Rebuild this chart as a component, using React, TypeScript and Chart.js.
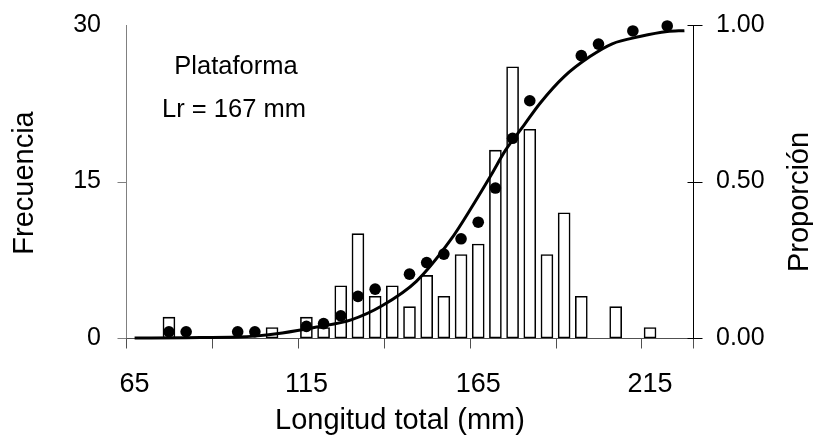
import React, { useEffect, useRef } from "react";
import { Chart, registerables } from "chart.js";

Chart.register(...registerables);

const FONT = '"Liberation Sans", Arial, Helvetica, sans-serif';

// Histogram: length-class centres (mm) and frequencies
const binCenters = [75, 105, 115, 120, 125, 130, 135, 140, 145, 150, 155, 160, 165, 170, 175, 180, 185, 190, 195, 205, 215];
const frequencies = [2, 1, 2, 1, 5, 10, 4, 5, 3, 6, 4, 8, 9, 18, 26, 20, 8, 12, 4, 3, 1];

// Observed proportions (dots)
const proportionLengths = [75, 80, 95, 100, 115, 120, 125, 130, 135, 145, 150, 155, 160, 165, 170, 175, 180, 195, 200, 210, 220];
const proportions = [0.02, 0.02, 0.02, 0.02, 0.037, 0.046, 0.071, 0.133, 0.156, 0.204, 0.241, 0.268, 0.317, 0.37, 0.479, 0.638, 0.758, 0.902, 0.939, 0.981, 0.997];

// Fitted curve
const curveLengths = [65, 80, 95, 100, 108, 118, 128, 137, 147, 157, 163.5, 168.5, 173, 178, 183, 190, 197.5, 204, 212, 220, 225];
const curveValues = [0.0, 0.001, 0.003, 0.006, 0.016, 0.035, 0.058, 0.103, 0.181, 0.314, 0.425, 0.516, 0.601, 0.675, 0.75, 0.835, 0.899, 0.94, 0.963, 0.979, 0.982];

// Axis ticks
const xTickLabels = [65, 115, 165, 215];
const xTickMarks = [62.5, 87.5, 112.5, 137.5, 162.5, 187.5, 212.5, 227.5];
const yTicks = [0, 15, 30];
const y2Ticks = [0, 0.5, 1];

const titleX = "Longitud total (mm)";
const titleY = "Frecuencia";
const titleY2 = "Proporción";
const note1 = "Plataforma";
const note2 = "Lr = 167 mm";

export default function App() {
  const ref = useRef<HTMLCanvasElement>(null);

  useEffect(() => {
    const canvas = ref.current;
    if (!canvas) return;

    const axesPlugin = {
      id: "axesPlugin",
      beforeDatasetsDraw(chart: any) {
        const { ctx, chartArea: a, scales } = chart;
        const x = scales.x;
        const y = scales.y;
        const y2 = scales.y2;
        ctx.save();
        ctx.lineWidth = 1;
        const L = Math.round(a.left) + 0.5;
        const R = Math.round(a.right) + 0.5;
        const B = Math.round(a.bottom) + 0.5;
        const T = Math.round(a.top);
        // left axis
        ctx.strokeStyle = "#808080";
        ctx.beginPath();
        ctx.moveTo(L, T);
        ctx.lineTo(L, B);
        yTicks.forEach((v) => {
          if (v === 30) return;
          const py = Math.round(y.getPixelForValue(v)) + 0.5;
          ctx.moveTo(L - 9, py);
          ctx.lineTo(L, py);
        });
        ctx.stroke();
        // bottom axis
        ctx.strokeStyle = "#505050";
        ctx.beginPath();
        ctx.moveTo(L, B);
        ctx.lineTo(R, B);
        xTickMarks.forEach((v) => {
          const px = Math.round(x.getPixelForValue(v)) + 0.5;
          ctx.moveTo(px, B);
          ctx.lineTo(px, B + 10);
        });
        ctx.stroke();
        // right axis
        ctx.strokeStyle = "#000";
        ctx.beginPath();
        ctx.moveTo(R, T);
        ctx.lineTo(R, B);
        y2Ticks.forEach((v) => {
          const py = Math.round(y2.getPixelForValue(v)) + 0.5;
          ctx.moveTo(R - 6, py);
          ctx.lineTo(R + 9, py);
        });
        ctx.stroke();
        ctx.restore();
      },
      afterDraw(chart: any) {
        const { ctx } = chart;
        ctx.save();
        ctx.fillStyle = "#000";
        ctx.textAlign = "center";
        ctx.textBaseline = "alphabetic";
        ctx.font = `29px ${FONT}`;
        ctx.fillText(titleX, 400, 429);
        ctx.save();
        ctx.translate(33, 183);
        ctx.rotate(-Math.PI / 2);
        ctx.fillText(titleY, 0, 0);
        ctx.restore();
        ctx.save();
        ctx.translate(808, 202);
        ctx.rotate(-Math.PI / 2);
        ctx.fillText(titleY2, 0, 0);
        ctx.restore();
        ctx.font = `25.5px ${FONT}`;
        ctx.fillText(note1, 236, 74);
        ctx.fillText(note2, 234, 117);
        ctx.restore();
      },
    };

    const tickFont = { family: FONT, size: 25 };
    const xTickFont = { family: FONT, size: 27 };
    const noPad = (s: any) => {
      s.paddingTop = 0;
      s.paddingBottom = 0;
      s.paddingLeft = 0;
      s.paddingRight = 0;
    };

    const chart = new Chart(canvas, {
      type: "bar",
      data: {
        datasets: [
          {
            type: "line",
            label: "Proporción observada",
            data: proportionLengths.map((v, i) => ({ x: v, y: proportions[i] })),
            yAxisID: "y2",
            showLine: false,
            pointRadius: 5.8,
            pointBackgroundColor: "#000",
            pointBorderWidth: 0,
            clip: false,
            order: 0,
          },
          {
            type: "line",
            label: "Ajuste",
            data: curveLengths.map((v, i) => ({ x: v, y: curveValues[i] })),
            yAxisID: "y2",
            borderColor: "#000",
            borderWidth: 3,
            pointRadius: 0,
            cubicInterpolationMode: "monotone",
            fill: false,
            clip: false,
            order: 1,
          },
          {
            type: "bar",
            label: "Frecuencia",
            data: binCenters.map((v, i) => ({ x: v, y: frequencies[i] })),
            yAxisID: "y",
            backgroundColor: "#fff",
            borderColor: "#000",
            borderWidth: 1.6,
            borderSkipped: false,
            barThickness: 12,
            order: 2,
          },
        ] as any,
      },
      options: {
        responsive: false,
        animation: false,
        layout: { padding: { top: 25, left: 0, right: 0, bottom: 0 } },
        plugins: { legend: { display: false }, tooltip: { enabled: false } },
        scales: {
          x: {
            type: "linear",
            min: 62.5,
            max: 227.5,
            offset: false,
            grid: { display: false, drawTicks: false, tickLength: 0 },
            border: { display: false },
            afterBuildTicks: (s: any) => {
              s.ticks = xTickLabels.map((v) => ({ value: v }));
            },
            afterFit: (s: any) => {
              s.height = 99;
              noPad(s);
            },
            ticks: {
              autoSkip: false,
              maxRotation: 0,
              minRotation: 0,
              padding: 30,
              color: "#000",
              font: xTickFont,
              callback: (v: any) => String(v),
            },
          },
          y: {
            position: "left",
            min: 0,
            max: 30,
            grid: { display: false, drawTicks: false, tickLength: 0 },
            border: { display: false },
            afterBuildTicks: (s: any) => {
              s.ticks = yTicks.map((v) => ({ value: v }));
            },
            afterFit: (s: any) => {
              s.width = 126;
              noPad(s);
            },
            ticks: { padding: 25, color: "#000", font: tickFont, callback: (v: any) => String(v) },
          },
          y2: {
            position: "right",
            min: 0,
            max: 1,
            grid: { display: false, drawTicks: false, tickLength: 0 },
            border: { display: false },
            afterBuildTicks: (s: any) => {
              s.ticks = y2Ticks.map((v) => ({ value: v }));
            },
            afterFit: (s: any) => {
              s.width = 120;
              noPad(s);
            },
            ticks: { padding: 23, color: "#000", font: tickFont, callback: (v: any) => Number(v).toFixed(2) },
          },
        },
      } as any,
      plugins: [axesPlugin],
    });

    return () => chart.destroy();
  }, []);

  return (
    <div style={{ position: "fixed", left: 0, top: 0, width: 813, height: 437, background: "#fff" }}>
      <canvas ref={ref} width={813} height={437} style={{ display: "block" }} />
    </div>
  );
}
